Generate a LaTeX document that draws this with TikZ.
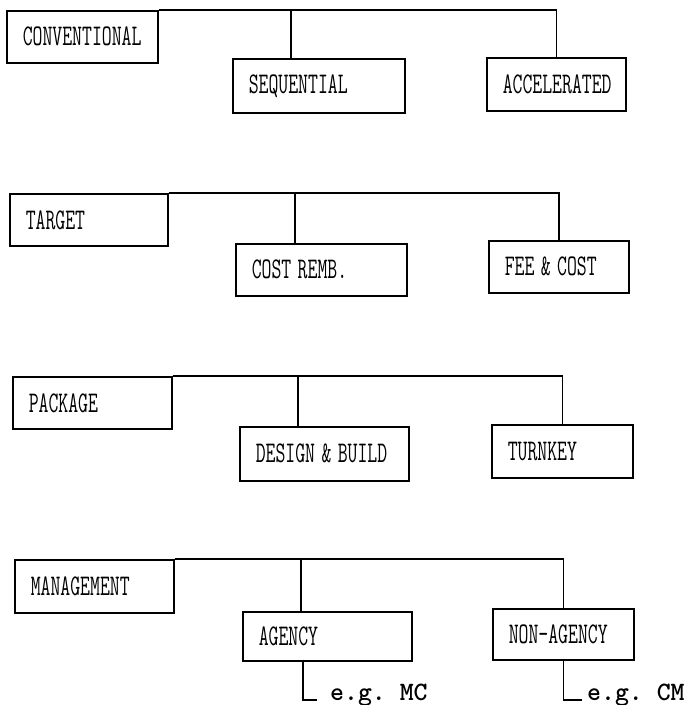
\documentclass[tikz,border=0pt]{standalone}
\usepackage{tikz}
\usetikzlibrary{positioning}
\newcommand{\cond}[1]{\scalebox{0.64}[1]{#1}}
\tikzset{kind/.style = {draw, line width=1.6pt, anchor=north west, inner xsep=16pt,
                        inner ysep=0pt, align=left,
                        font=\fontsize{30}{31}\selectfont\ttfamily},
         link/.style = {line width=1.6pt},
         example/.style = {anchor=base west, inner xsep=13pt,
                           font=\fontsize{26.5}{28}\selectfont\ttfamily\bfseries\frenchspacing}}

\begin{document}
\begin{tikzpicture}[x=1pt, y=-1pt]
      \useasboundingbox (0, 0) rectangle (687, 705);

      \node [kind, text width=119, minimum height=52] (conv) at (6, 10) {\cond{CONVENTIONAL}};
      \node [kind, text width=140, minimum height=54] (seq) at (232, 58) {\cond{SEQUENTIAL}};
      \node [kind, text width=107, minimum height=53] (acc) at (486, 57) {\cond{ACCELERATED}};
      \draw [link] (conv.north east) -- (acc.north |- conv.north east) -- (acc.north);
      \draw [link] ([xshift=59]seq.north west) -- ([xshift=59]seq.north west |- conv.north east);

      \node [kind, text width=126, minimum height=52] (target) at (9, 193) {\cond{TARGET}};
      \node [kind, text width=139, minimum height=52] (cost) at (235, 243) {\cond{COST REMB.}};
      \node [kind, text width=108, minimum height=52] (fee) at (488, 240) {\cond{FEE \& COST}};
      \draw [link] (target.north east) -- (fee.north |- target.north east) -- (fee.north);
      \draw [link] ([xshift=60]cost.north west) -- ([xshift=60]cost.north west |- target.north east);

      \node [kind, text width=127, minimum height=52] (pack) at (12, 376) {\cond{PACKAGE}};
      \node [kind, text width=137, minimum height=54] (design) at (239, 426) {\cond{DESIGN \& BUILD}};
      \node [kind, text width=109, minimum height=53] (turnkey) at (491, 424) {\cond{TURNKEY}};
      \draw [link] (pack.north east) -- (turnkey.north |- pack.north east) -- (turnkey.north);
      \draw [link] ([xshift=59]design.north west) -- ([xshift=59]design.north west |- pack.north east);

      \node [kind, text width=127, minimum height=53] (mgmt) at (14, 559) {\cond{MANAGEMENT}};
      \node [kind, text width=137, minimum height=49] (agency) at (242, 611) {\cond{AGENCY}};
      \node [kind, text width=109, minimum height=51] (nonagency) at (492, 608) {\cond{NON-AGENCY}};
      \draw [link] (mgmt.north east) -- (nonagency.north |- mgmt.north east) -- (nonagency.north);
      \draw [link] ([xshift=59]agency.north west) -- ([xshift=59]agency.north west |- mgmt.north east);

      \node [example] (mc) at (317, 700) {e.g. MC};
      \node [example, inner xsep=5pt] (cm) at (582, 700) {e.g. CM};
      \draw [link] ([xshift=61]agency.south west) |- (mc.base west);
      \draw [link] (nonagency.south) |- (cm.base west);
    \end{tikzpicture}
\end{document}
